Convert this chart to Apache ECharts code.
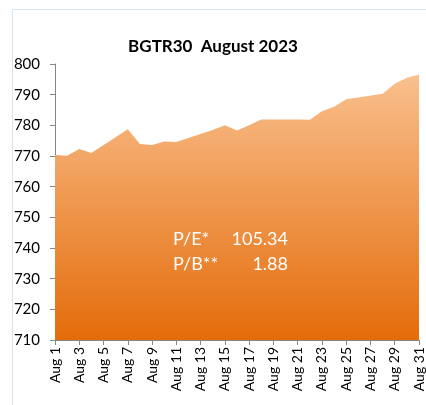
<!DOCTYPE html>
<html>
<head>
<meta charset="utf-8">
<script src="https://cdn.jsdelivr.net/npm/echarts@6/dist/echarts.min.js"></script>
<style>
  html, body { margin: 0; padding: 0; background: #fff; }
  #chart { width: 426px; height: 405px; }
</style>
</head>
<body>
<div id="chart"></div>
<script>
// trading days of August 2023, weekends left empty (joined by a straight line)
const days = [];
for (let d = 1; d <= 31; d++) days.push("Aug " + d);

const values = [
  770.3, 770.1, 772.3, 771.0, null, null, 778.7,
  773.9, 773.6, 774.7, 774.6, null, null, 778.5,
  780.0, 778.3, 780.0, 781.9, null, null, 781.9,
  781.8, 784.6, 786.1, 788.5, null, null, 790.3,
  793.6, 795.5, 796.6
];

const peText = ["P/E*", "105.34"];
const pbText = ["P/B**", "1.88"];

const font = "Lato, 'Open Sans', sans-serif";
const chart = echarts.init(document.getElementById("chart"));

chart.setOption({
  animation: false,
  title: {
    text: "BGTR30  August 2023",
    left: "center",
    top: 33,
    textStyle: { fontFamily: font, fontSize: 17, fontWeight: "bold", color: "#000" }
  },
  grid: { left: 55, right: 5, top: 64, bottom: 65 },
  xAxis: {
    type: "category",
    data: days,
    boundaryGap: false,
    axisLine: { lineStyle: { color: "#868686", width: 1 } },
    axisTick: { interval: 1, length: 5, lineStyle: { color: "#868686" } },
    axisLabel: {
      interval: 1,
      rotate: 90,
      margin: 7,
      fontFamily: font,
      fontSize: 14,
      color: "#000"
    }
  },
  yAxis: {
    type: "value",
    min: 710,
    max: 800,
    interval: 10,
    axisLine: { show: true, lineStyle: { color: "#868686", width: 1 } },
    axisTick: { show: true, length: 5, lineStyle: { color: "#868686" } },
    splitLine: { show: false },
    axisLabel: { margin: 15, fontFamily: font, fontSize: 15, color: "#000" }
  },
  series: [
    {
      type: "line",
      data: values,
      connectNulls: true,
      symbol: "none",
      lineStyle: { width: 0 },
      areaStyle: {
        opacity: 1,
        color: new echarts.graphic.LinearGradient(0, 0, 0, 1, [
          { offset: 0, color: "#f9c08e" },
          { offset: 1, color: "#e46c0a" }
        ])
      }
    }
  ],
  graphic: [
    {
      type: "rect",
      shape: { x: 12.5, y: 9.5, width: 430, height: 400 },
      style: { fill: "none", stroke: "#d6e3f0", lineWidth: 1 },
      silent: true
    },
    {
      type: "group", z: 100,
      children: [
        { type: "text", x: 173, y: 230, z: 100,
          style: { text: peText[0], fill: "#fff", font: "18px " + font } },
        { type: "text", x: 288, y: 230, z: 100,
          style: { text: peText[1], fill: "#fff", font: "18px " + font, textAlign: "right" } },
        { type: "text", x: 173, y: 255, z: 100,
          style: { text: pbText[0], fill: "#fff", font: "18px " + font } },
        { type: "text", x: 288, y: 255, z: 100,
          style: { text: pbText[1], fill: "#fff", font: "18px " + font, textAlign: "right" } }
      ]
    }
  ]
});
</script>
</body>
</html>
